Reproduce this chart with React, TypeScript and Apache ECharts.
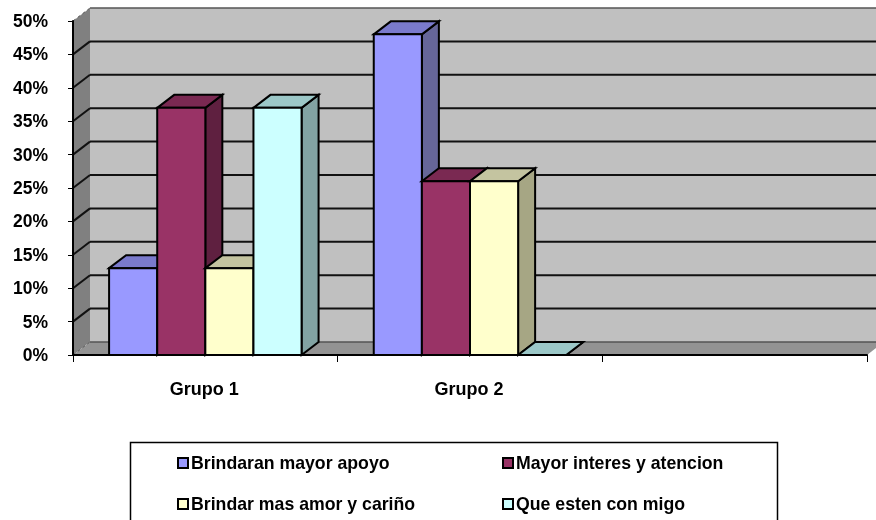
import React, { useEffect, useRef } from "react";
import * as echarts from "echarts";

const categories = ["Grupo 1", "Grupo 2", ""];
const seriesNames = [
  "Brindaran mayor apoyo",
  "Mayor interes y atencion",
  "Brindar mas amor y cariño",
  "Que esten con migo",
];
const apoyo = [13, 48];
const interes = [37, 26];
const amor = [13, 26];
const conmigo = [37, 0];
const yTicks = [0, 5, 10, 15, 20, 25, 30, 35, 40, 45, 50];

const frontColors = ["#9999FF", "#993366", "#FFFFCC", "#CCFFFF"];
const topColors = ["#7A7ACC", "#7A2952", "#C4C4A0", "#9CC8C8"];
const sideColors = ["#666699", "#5F2040", "#A6A684", "#82A3A3"];

const DX = 17;
const DY = 13;
const FONT = "'Liberation Sans', Arial, sans-serif";

function poly(points: number[][], fill: string, stroke: string, lineWidth: number) {
  return {
    type: "polygon",
    shape: { points },
    style: { fill, stroke, lineWidth, lineJoin: "miter" },
  };
}

function renderBar(k: number) {
  return (params: any, api: any) => {
    const idx = api.value(0);
    const val = api.value(1);
    const band = api.size([1, 0])[0];
    const w = band / 5.5;
    const center = api.coord([idx, 0])[0];
    const y0 = api.coord([idx, 0])[1];
    const y1 = api.coord([idx, val])[1];
    const x0 = center - 2 * w + k * w;
    const x1 = x0 + w;
    return {
      type: "group",
      children: [
        poly(
          [[x1, y1], [x1 + DX, y1 - DY], [x1 + DX, y0 - DY], [x1, y0]],
          sideColors[k], "#000", 2
        ),
        poly(
          [[x0, y1], [x0 + DX, y1 - DY], [x1 + DX, y1 - DY], [x1, y1]],
          topColors[k], "#000", 2
        ),
        poly(
          [[x0, y1], [x1, y1], [x1, y0], [x0, y0]],
          frontColors[k], "#000", 2
        ),
      ],
    };
  };
}

function renderWalls(params: any) {
  const c = params.coordSys;
  const l = c.x, r = c.x + c.width, t = c.y, b = c.y + c.height;
  return {
    type: "group",
    children: [
      poly([[l + DX, t - DY], [r + DX, t - DY], [r + DX, b - DY], [l + DX, b - DY]], "#C0C0C0", "none", 0),
      poly([[l, t], [l + DX, t - DY], [l + DX, b - DY], [l, b]], "#808080", "none", 0),
      poly([[l, b], [l + DX, b - DY], [r + DX, b - DY], [r, b]], "#939393", "none", 0),
    ],
  };
}

function renderGrid(params: any, api: any) {
  const c = params.coordSys;
  const l = c.x, r = c.x + c.width;
  const v = api.value(0);
  const y = api.coord([0, v])[1];
  const edge = v === 0 || v === 50;
  return {
    type: "group",
    children: [
      {
        type: "polyline",
        shape: { points: [[l, y], [l + DX, y - DY]] },
        style: {
          fill: "none",
          stroke: edge ? "#555" : "#111",
          lineWidth: edge ? 1 : 2,
          lineDash: edge ? [3, 3] : undefined,
        },
      },
      {
        type: "polyline",
        shape: { points: [[l + DX, y - DY], [r + DX, y - DY]] },
        style: { fill: "none", stroke: edge ? "#555" : "#111", lineWidth: edge ? 1.5 : 2 },
      },
    ],
  };
}

const barValues = [apoyo, interes, amor, conmigo];

const legendSlots = [
  { left: 177, top: 454 },
  { left: 502, top: 454 },
  { left: 177, top: 495 },
  { left: 502, top: 495 },
];

export default function App() {
  const ref = useRef<HTMLDivElement>(null);
  useEffect(() => {
    const chart = echarts.init(ref.current!, null, { renderer: "svg" });
    chart.setOption({
      animation: false,
      backgroundColor: "#fff",
      textStyle: { fontFamily: FONT },
      grid: { left: 73, top: 21, width: 794, height: 334 },
      xAxis: {
        type: "category",
        data: categories,
        z: 5,
        axisLine: { show: true, lineStyle: { color: "#000", width: 2 } },
        axisTick: { show: true, length: 7, lineStyle: { color: "#000", width: 1 } },
        axisLabel: {
          color: "#000",
          fontFamily: FONT,
          fontWeight: "bold",
          fontSize: 18,
          margin: 25,
          padding: [0, 2, 0, 0],
        },
      },
      yAxis: {
        type: "value",
        min: 0,
        max: 50,
        interval: 5,
        z: 5,
        splitLine: { show: false },
        axisLine: { show: true, lineStyle: { color: "#000", width: 2 } },
        axisTick: { show: true, length: 5, lineStyle: { color: "#000", width: 1 } },
        axisLabel: {
          color: "#000",
          fontFamily: FONT,
          fontWeight: "bold",
          fontSize: 17.5,
          margin: 25,
          padding: [2, 0, 0, 0],
          formatter: "{value}%",
        },
      },
      legend: seriesNames.map((name, k) => ({
        data: [name],
        left: legendSlots[k].left,
        top: legendSlots[k].top,
        padding: 0,
        z: 10,
        icon: "rect",
        itemWidth: 10,
        itemHeight: 10,
        itemGap: 0,
        selectedMode: false,
        itemStyle: { color: frontColors[k], borderColor: "#000", borderWidth: 2 },
        textStyle: {
          color: "#000",
          fontFamily: FONT,
          fontWeight: "bold",
          fontSize: 17.7,
          padding: [0, 0, 0, -2],
        },
      })),
      graphic: [
        {
          type: "rect",
          z: 1,
          shape: { x: 130.5, y: 442.5, width: 647, height: 90 },
          style: { fill: "#fff", stroke: "#000", lineWidth: 1.5 },
        },
      ],
      series: [
        {
          name: "walls",
          type: "custom",
          z: 1,
          silent: true,
          renderItem: renderWalls,
          data: [[0]],
          encode: { x: -1, y: -1 },
        },
        {
          name: "grid",
          type: "custom",
          z: 1,
          silent: true,
          renderItem: renderGrid,
          data: yTicks.map((v) => [v]),
          encode: { x: -1, y: 0 },
        },
        ...seriesNames.map((name, k) => ({
          name,
          type: "custom",
          z: 2,
          itemStyle: { color: frontColors[k] },
          renderItem: renderBar(k),
          data: barValues[k].map((v, i) => [i, v]),
          encode: { x: 0, y: 1 },
        })),
      ],
    });
    return () => chart.dispose();
  }, []);
  return (
    <div
      ref={ref}
      style={{ position: "fixed", left: 0, top: 0, width: 876, height: 520, filter: "blur(0.4px)" }}
    />
  );
}
